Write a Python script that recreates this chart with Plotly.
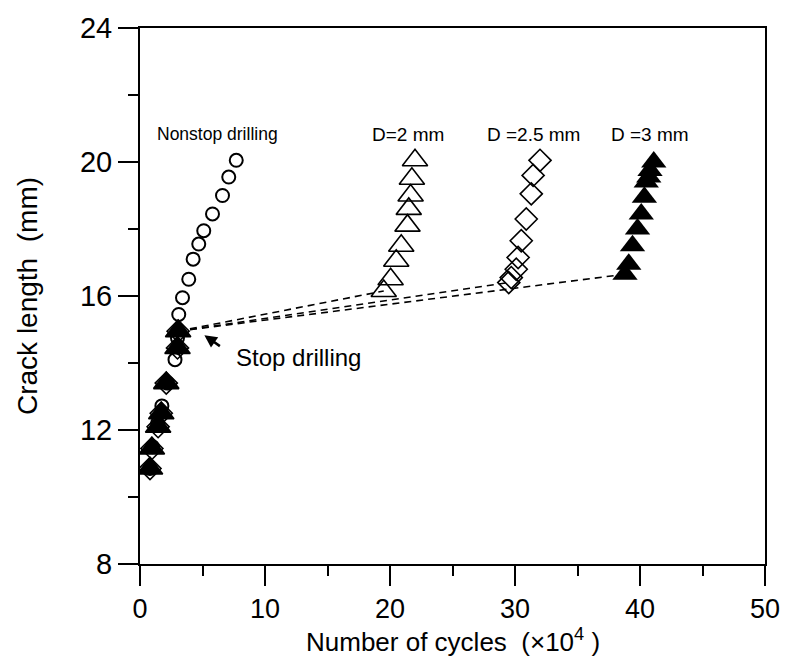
import plotly.graph_objects as go

# Crack growth before drilling (shared by all drilled specimens)
pre_x = [0.8, 0.95, 1.45, 1.7, 2.1, 3.0, 3.05]
pre_y = [10.85, 11.45, 12.1, 12.5, 13.4, 14.45, 14.95]

# Nonstop drilling specimen
nonstop_x = [0.8, 1.0, 1.4, 1.75, 2.2, 2.8, 3.0, 3.1, 3.4, 3.9, 4.25, 4.7, 5.1, 5.8, 6.6, 7.1, 7.7]
nonstop_y = [10.85, 11.5, 12.2, 12.72, 13.4, 14.1, 14.75, 15.45, 15.95, 16.5, 17.1, 17.55, 17.95, 18.45, 19.0, 19.55, 20.05]

# After stop-hole drilling, D = 2 mm
d2_x = [19.5, 20.05, 20.5, 20.9, 21.4, 21.5, 21.65, 21.75, 22.0]
d2_y = [16.15, 16.5, 17.05, 17.5, 18.1, 18.6, 19.0, 19.5, 20.05]

# After stop-hole drilling, D = 2.5 mm
d25_x = [29.5, 29.7, 30.1, 30.25, 30.5, 30.9, 31.3, 31.45, 32.0]
d25_y = [16.4, 16.55, 16.8, 17.15, 17.65, 18.3, 19.05, 19.6, 20.05]

# After stop-hole drilling, D = 3 mm
d3_x = [38.8, 39.1, 39.4, 39.8, 40.1, 40.35, 40.5, 40.7, 40.8, 41.1]
d3_y = [16.65, 16.95, 17.5, 18.0, 18.45, 18.95, 19.4, 19.55, 19.75, 20.0]

FONT = "Liberation Sans, Arial, sans-serif"

fig = go.Figure()

# dashed links from the stop point to the first point after drilling
for sx, sy in [(d2_x, d2_y), (d25_x, d25_y), (d3_x, d3_y)]:
    fig.add_trace(go.Scatter(
        x=[pre_x[-1], sx[0]], y=[pre_y[-1], sy[0]], mode="lines",
        line=dict(color="black", width=1.6, dash="7px,5px"),
        hoverinfo="skip", showlegend=False))

fig.add_trace(go.Scatter(
    x=nonstop_x, y=nonstop_y, mode="markers", name="Nonstop drilling",
    marker=dict(symbol="circle-open", size=13, color="black", line=dict(width=2))))

fig.add_trace(go.Scatter(
    x=pre_x + d2_x, y=pre_y + d2_y, mode="markers", name="D=2 mm",
    marker=dict(symbol="triangle-up-open", size=22, color="black", line=dict(width=1.6))))

fig.add_trace(go.Scatter(
    x=pre_x + d25_x, y=pre_y + d25_y, mode="markers", name="D=2.5 mm",
    marker=dict(symbol="diamond-open", size=17, color="black", line=dict(width=1.6))))

fig.add_trace(go.Scatter(
    x=pre_x + d3_x, y=pre_y + d3_y, mode="markers", name="D=3 mm",
    marker=dict(symbol="triangle-up", size=22, color="black", line=dict(width=0))))

# series labels above each curve
fig.add_annotation(x=1.2, y=20.83, text="Nonstop drilling", showarrow=False,
                   xanchor="left", font=dict(family=FONT, size=17.5, color="black"))
for txt, xx in [("D=2 mm", 21.4), ("D =2.5 mm", 31.5), ("D =3 mm", 40.8)]:
    fig.add_annotation(x=xx, y=20.83, text=txt, showarrow=False,
                       font=dict(family=FONT, size=19, color="black"))

fig.add_annotation(x=7.5, y=14.15, text="Stop drilling", showarrow=False,
                   xanchor="left", font=dict(family=FONT, size=24, color="black"))
fig.add_annotation(x=5.15, y=14.83, ax=17, ay=12, axref="pixel", ayref="pixel",
                   text="", showarrow=True, arrowhead=2, arrowsize=1,
                   arrowwidth=2.5, arrowcolor="black")

# x-axis title placed just below the tick labels
fig.add_annotation(x=0.5, y=-0.142, xref="paper", yref="paper",
                   xanchor="center", yanchor="middle",
                   text="Number of cycles  (\u00d710<sup>4</sup> )", showarrow=False,
                   font=dict(family=FONT, size=26, color="black"))

axis_common = dict(
    showline=True, linecolor="black", linewidth=2, mirror=True,
    ticks="outside", ticklen=20, tickwidth=2, tickcolor="black",
    showgrid=False, zeroline=False,
)

fig.update_xaxes(
    range=[0, 50], tick0=0, dtick=10,
    tickfont=dict(family=FONT, size=27, color="black"),
    minor=dict(ticks="outside", ticklen=10, tickwidth=2, tickcolor="black", dtick=5, showgrid=False),
    **axis_common)
fig.update_yaxes(
    range=[8, 24], tick0=8, dtick=4,
    tickfont=dict(family=FONT, size=29, color="black"),
    minor=dict(ticks="outside", ticklen=10, tickwidth=2, tickcolor="black", dtick=2, showgrid=False),
    title=dict(text="Crack length  (mm)", standoff=34,
               font=dict(family=FONT, size=28, color="black")),
    **axis_common)

fig.update_layout(
    width=792, height=666,
    margin=dict(l=140, r=24, t=19, b=102),
    plot_bgcolor="white", paper_bgcolor="white",
    showlegend=False,
)

fig.write_html("out.html")
